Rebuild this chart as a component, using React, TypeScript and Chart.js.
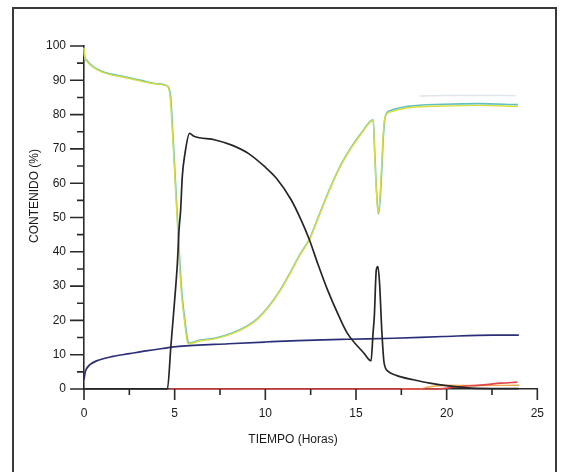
import React, { useEffect, useRef } from "react";
import { Chart, registerables } from "chart.js";

Chart.register(...registerables);

// ---- Axis ticks / titles ----
const X_MAJOR_TICKS = [0, 5, 10, 15, 20, 25];
const X_MINOR_TICKS = [2.5, 7.5, 12.5, 17.5, 22.5];
const Y_MAJOR_TICKS = [0, 10, 20, 30, 40, 50, 60, 70, 80, 90, 100];
const Y_MINOR_TICKS = [5, 15, 25, 35, 45, 55, 65, 75, 85, 95];
const X_TITLE = "TIEMPO (Horas)";
const Y_TITLE = "CONTENIDO (%)";

// ---- Series (time in hours, content in %) ----
const YELLOW_T = [0, 0.03, 0.15, 0.5, 1.0, 1.5, 2.25, 3.2, 4.0, 4.6, 4.75, 4.88, 4.98, 5.08, 5.18, 5.27, 5.37, 5.53, 5.72, 5.8, 6.35, 7.2, 8.1, 9.0, 9.6, 10.2, 10.8, 11.4, 11.9, 12.43, 13.0, 13.5, 14.1, 14.7, 15.3, 15.95, 16.02, 16.11, 16.22, 16.31, 16.41, 16.5, 16.6, 16.9, 17.87, 19.82, 21.78, 23.93];
const YELLOW_V = [99.5, 97, 95.5, 93.8, 92.4, 91.6, 90.8, 89.7, 88.9, 88.3, 85, 74.5, 64.8, 55, 45.4, 35.7, 27.9, 20.2, 13.4, 13.2, 14.0, 14.6, 16.0, 18.2, 20.5, 24.0, 28.5, 34.0, 39.0, 43.5, 51.0, 57.5, 64.5, 70.0, 74.5, 78.3, 69.6, 59, 51.2, 55.1, 64.8, 74.5, 79.3, 80.8, 82.0, 82.5, 82.7, 82.4];

const CYAN_T = [0, 0.03, 0.15, 0.5, 1.0, 1.5, 2.25, 3.2, 4.0, 4.6, 4.78, 4.9, 5.0, 5.1, 5.2, 5.3, 5.4, 5.56, 5.75, 5.82, 6.35, 7.2, 8.1, 9.0, 9.6, 10.2, 10.8, 11.4, 11.9, 12.43, 13.0, 13.5, 14.1, 14.7, 15.3, 15.95, 16.03, 16.12, 16.24, 16.33, 16.43, 16.52, 16.62, 16.9, 17.87, 19.82, 21.78, 23.93];
const CYAN_V = [99.5, 97.2, 95.8, 94.0, 92.6, 91.8, 91.0, 89.9, 89.0, 88.3, 85, 74.5, 64.8, 55, 45.4, 35.7, 27.9, 20.2, 13.6, 13.4, 14.2, 14.8, 16.2, 18.4, 20.7, 24.2, 28.7, 34.2, 39.2, 43.7, 51.2, 57.7, 64.7, 70.2, 74.7, 78.5, 69.6, 59, 51.0, 55.1, 64.8, 74.5, 79.6, 81.2, 82.4, 83.0, 83.2, 82.9];

const BLACK_T = [0, 4.6, 4.79, 4.97, 5.15, 5.24, 5.33, 5.42, 5.57, 5.82, 6.06, 7.24, 8.15, 9.06, 9.97, 10.6, 11.43, 11.97, 12.43, 12.88, 13.43, 14.07, 14.52, 15.43, 15.83, 15.94, 16.01, 16.12, 16.21, 16.3, 16.43, 16.55, 16.79, 17.25, 18.16, 19.07, 19.98, 20.89, 21.8, 23.97];
const BLACK_V = [0, 0, 12.4, 24, 36.7, 46.4, 52.2, 61.9, 68.7, 74.5, 73.7, 72.6, 71.1, 68.7, 64.8, 61.5, 55.1, 49.3, 43.5, 36.7, 28.9, 21.1, 16.3, 10.5, 8.2, 16.3, 21.1, 34.7, 35.7, 30.8, 16.3, 7.6, 5.1, 3.9, 2.7, 1.7, 1.0, 0.5, 0.2, 0.1];

const BLUE_T = [0, 0.05, 0.11, 0.33, 0.69, 1.6, 2.51, 3.42, 4.33, 5.24, 7.97, 10.0, 11.79, 14.52, 17.07, 19.8, 22.53, 23.98];
const BLUE_V = [2.7, 4.5, 5.6, 7.1, 8.2, 9.5, 10.3, 11.1, 11.8, 12.4, 13.2, 13.7, 14.1, 14.5, 14.8, 15.3, 15.7, 15.7];

const RED_T = [4.7, 19.5, 20.5, 22.0, 23.0, 23.9];
const RED_V = [0, 0, 0.6, 1.2, 1.7, 2.0];

const ORANGE_T = [17.5, 18.5, 19.0, 20.0, 21.5, 24.0];
const ORANGE_V = [0, 0, 0.6, 1.1, 1.0, 1.1];

const FAINT_T = [18.5, 20.0, 22.0, 23.8];
const FAINT_V = [85.4, 85.6, 85.6, 85.5];

const pts = (t: number[], v: number[]) => t.map((x, i) => ({ x, y: v[i] }));

const FONT = "'Liberation Sans', Arial, sans-serif";

const tickPlugin = {
  id: "customTicks",
  afterDraw(chart: any) {
    const ctx = chart.ctx;
    const xs = chart.scales.x;
    const ys = chart.scales.y;
    const left = xs.left;
    const bottom = ys.bottom;
    ctx.save();
    ctx.strokeStyle = "#2a2a2a";
    ctx.lineWidth = 1.6;
    ctx.beginPath();
    Y_MAJOR_TICKS.forEach((v) => {
      const y = ys.getPixelForValue(v);
      ctx.moveTo(left - 14, y);
      ctx.lineTo(left, y);
    });
    Y_MINOR_TICKS.forEach((v) => {
      const y = ys.getPixelForValue(v);
      ctx.moveTo(left - 7, y);
      ctx.lineTo(left, y);
    });
    X_MAJOR_TICKS.forEach((t) => {
      const x = xs.getPixelForValue(t);
      ctx.moveTo(x, bottom);
      ctx.lineTo(x, bottom + 11);
    });
    X_MINOR_TICKS.forEach((t) => {
      const x = xs.getPixelForValue(t);
      ctx.moveTo(x, bottom);
      ctx.lineTo(x, bottom + 6);
    });
    ctx.stroke();

    ctx.fillStyle = "#1a1a1a";
    ctx.font = `12px ${FONT}`;
    ctx.textAlign = "center";
    ctx.textBaseline = "middle";
    ctx.fillText(X_TITLE, 293, 440);
    ctx.translate(35, 196);
    ctx.rotate(-Math.PI / 2);
    ctx.fillText(Y_TITLE, 0, 0);
    ctx.restore();
  },
};

export default function App() {
  const ref = useRef<HTMLCanvasElement | null>(null);

  useEffect(() => {
    if (!ref.current) return;
    const line = (data: any, color: string, width: number) => ({
      data,
      borderColor: color,
      backgroundColor: color,
      borderWidth: width,
      pointRadius: 0,
      cubicInterpolationMode: "monotone" as const,
      fill: false,
      clip: 6,
    });
    const chart = new Chart(ref.current, {
      type: "line",
      data: {
        datasets: [
          line(pts(BLACK_T, BLACK_V), "#262626", 1.7),
          line(pts(BLUE_T, BLUE_V), "#2a2f78", 1.7),
          line(pts(YELLOW_T, YELLOW_V), "#d6de3c", 1.4),
          line(pts(CYAN_T, CYAN_V), "#62c0c4", 1.6),
          line(pts(RED_T, RED_V), "#e0454a", 1.6),
          line(pts(ORANGE_T, ORANGE_V), "#f0a848", 1.4),
          line(pts(FAINT_T, FAINT_V), "#dfe5ea", 1.5),
        ],
      },
      options: {
        animation: false,
        responsive: false,
        devicePixelRatio: 1,
        layout: { padding: { left: 0, right: 19, top: 46, bottom: 0 } },
        plugins: {
          legend: { display: false },
          tooltip: { enabled: false },
        },
        scales: {
          x: {
            type: "linear",
            min: 0,
            max: 25,
            grid: { display: false, drawTicks: false },
            border: { display: true, color: "#2a2a2a", width: 1.6 },
            ticks: {
              stepSize: 5,
              padding: 17,
              color: "#1a1a1a",
              font: { family: FONT, size: 12 },
              maxRotation: 0,
            },
            afterFit: (s: any) => {
              s.height = 83;
            },
          },
          y: {
            type: "linear",
            min: 0,
            max: 100,
            grid: { display: false, drawTicks: false },
            border: { display: true, color: "#2a2a2a", width: 1.6 },
            ticks: {
              stepSize: 10,
              padding: 18,
              color: "#1a1a1a",
              font: { family: FONT, size: 12 },
            },
            afterFit: (s: any) => {
              s.width = 84;
            },
          },
        },
      },
      plugins: [tickPlugin],
    });
    return () => chart.destroy();
  }, []);

  return (
    <div style={{ position: "fixed", left: 0, top: 0, width: 561, height: 472, background: "#fff", overflow: "hidden" }}>
      <div
        style={{
          position: "absolute",
          left: 12,
          top: 7,
          width: 545,
          height: 490,
          border: "2px solid #3a3a3a",
          boxSizing: "border-box",
        }}
      />
      <canvas ref={ref} width={561} height={472} style={{ position: "absolute", left: 0, top: 0 }} />
    </div>
  );
}
